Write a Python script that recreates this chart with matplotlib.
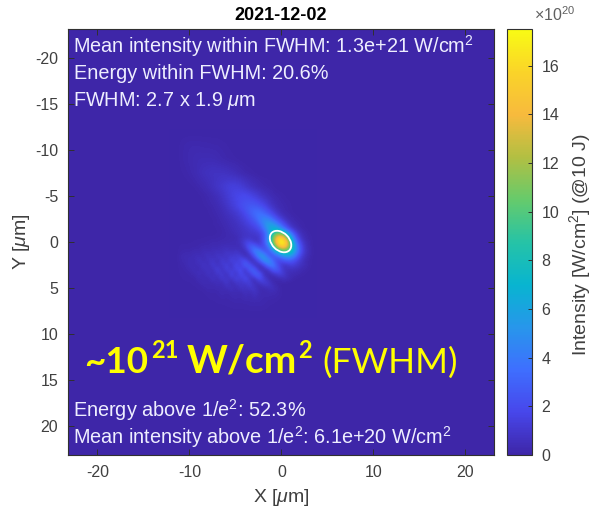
import numpy as np
import matplotlib
matplotlib.use("Agg")
import matplotlib.pyplot as plt
from matplotlib.colors import LinearSegmentedColormap
from matplotlib.patches import Ellipse

plt.rcParams.update({
    "font.family": "Liberation Sans",
    "mathtext.fontset": "custom",
    "mathtext.rm": "Liberation Sans",
    "mathtext.it": "Liberation Sans:italic",
    "mathtext.default": "regular",
    "axes.unicode_minus": False,
})

TITLE = "2021-12-02"
X_TICKS = [-20, -10, 0, 10, 20]
Y_TICKS = [-20, -15, -10, -5, 0, 5, 10, 15, 20]
CBAR_TICKS = [0, 2, 4, 6, 8, 10, 12, 14, 16]
CBAR_MAX = 17.5
FWHM_WIDTH = 2.7
FWHM_HEIGHT = 1.9
PEAK_X = -0.1
PEAK_Y = -0.1

# Intensity in 1e20 W/cm^2; columns at x_um, rows at y_um
x_um = [-11.0, -10.5, -10.0, -9.5, -9.0, -8.5, -8.0, -7.5, -7.0,
        -6.5, -6.0, -5.5, -5.0, -4.5, -4.0, -3.5, -3.0, -2.5, -2.0,
        -1.5, -1.0, -0.5, 0.0, 0.5, 1.0, 1.5, 2.0, 2.5, 3.0]
y_um = [-12, -10.5, -9, -7.5, -6, -5, -4, -3.5, -3, -2.5, -2, -1.5, -1, -0.5, 0,
        0.5, 1, 1.5, 2, 2.5, 3, 3.5, 4, 4.5, 5, 5.5, 6.5, 8]
intensity = [
 [0,0,0,0,0,0,0,0,0,  0,0,0,0,0,0,0,0,0,0,  0,0,0,0,0,0,0,0,0,0],
 [.1,.15,.2,.2,.2,.17,.17,.14,.14,  .1,.07,.04,0,0,0,0,0,0,0,  0,0,0,0,0,0,0,0,0,0],
 [.1,.17,.25,.3,.35,.35,.35,.35,.28,  .2,.14,.1,.07,.03,0,0,0,0,0,  0,0,0,0,0,0,0,0,0,0],
 [.05,.1,.17,.28,.42,.55,.63,.7,.7,  .7,.63,.55,.42,.28,.17,.1,.07,0,0,  0,0,0,0,0,0,0,0,0,0],
 [0,0,.03,.07,.17,.28,.42,.63,.84,  1.05,1.26,1.4,1.4,1.26,1,.7,.5,.35,.2,  .14,.07,0,0,0,0,0,0,0,0],
 [0,0,0,0,.04,.1,.2,.35,.5,  .77,1.1,1.4,1.7,1.8,1.9,1.7,1.4,1.05,.7,  .5,.28,.17,.1,.04,0,0,0,0,0],
 [0,0,0,0,0,.07,.14,.2,.35,  .56,.84,1.2,1.55,2,2.3,2.45,2.45,2.1,1.7,  1.1,.63,.35,.2,.14,.07,0,0,0,0],
 [0,0,0,0,0,0,.07,.14,.28,  .42,.63,1,1.26,1.7,2.2,2.8,3.1,3.1,2.5,  1.8,1.1,.56,.28,.14,.07,0,0,0,0],
 [0,0,0,0,0,0,.07,.14,.2,  .35,.56,.7,1,1.3,1.8,2.5,3.3,3.7,3.4,  2.7,1.8,1,.5,.25,.12,.06,0,0,0],
 [0,0,0,0,0,0,0,.07,.14,  .28,.42,.56,.77,1.1,1.5,2,2.7,3.8,4.6,  4.4,3.2,2,1.1,.5,.25,.12,.06,0,0],
 [0,0,0,0,0,0,0,.07,.14,  .2,.35,.5,.63,.9,1.2,1.6,2.1,3,4.6,  5.6,5.2,3.8,2.3,1.15,.5,.25,.12,.06,0],
 [0,0,0,0,0,0,0,.04,.08,  .14,.28,.42,.56,.7,.95,1.2,1.5,2.1,3.7,  6,6.9,6,4.1,2.2,1,.45,.15,.05,0],
 [0,0,0,0,0,0,0,0,.07,  .14,.2,.35,.5,.63,.8,1,1.1,1.3,2.4,  4.8,8,10.2,9.2,6.2,3.2,1.3,.5,.2,.05],
 [0,0,.03,.05,.05,.07,.1,.1,.12,  .15,.2,.25,.3,.6,.8,.8,.8,1,2.2,  4.9,11,14.8,16,11,5.9,2.4,.8,.3,.1],
 [.05,.05,.05,.08,.1,.1,.15,.2,.2,  .25,.3,.35,.4,.6,1.5,1.7,.9,.9,2.1,  5.5,10.5,16.8,17.5,15.5,8.1,3.8,1.5,.5,.15],
 [.1,.1,.1,.1,.15,.25,.2,.35,.25,  .5,.4,.45,.35,.45,1.2,2.9,3.2,1.6,1.8,  3.6,7.8,13,16.3,14,8.9,4.9,2.1,.7,.2],
 [.15,.15,.15,.3,.2,.5,.35,.5,.55,  .5,.85,.55,.85,.45,.4,1.9,4.3,4.6,2.4,  2.2,4.3,7.5,9.4,9.6,7.9,4.9,2.2,.8,.25],
 [.2,.35,.3,.45,.45,.4,.8,.4,.95,  .6,.95,.95,1.2,1.2,.35,.6,2.4,5.3,5.6,  2.5,2.2,3.3,4.8,5.7,5.3,3.4,1.5,.6,.2],
 [.2,.25,.45,.3,.75,.4,.65,.95,.4,  1.35,.6,1.7,1,1.9,2.1,.5,.65,2.3,5.3,  5.4,3,1.6,2.1,2.7,2.6,1.7,.9,.35,.1],
 [.15,.2,.45,.4,.35,.9,.4,1.2,.65,  1,1.5,.6,2.1,1,3.1,2.4,.7,.4,1.5,  4,4.3,2.1,.9,.9,1.4,1.1,.7,.35,.1],
 [.1,.15,.25,.5,.3,.65,.65,.55,1.5,  .55,1.5,1.1,1.5,2.1,.6,3,2.9,.6,.4,  .8,2.7,2.7,1.1,.6,.6,.5,.3,.15,.05],
 [.1,.1,.15,.3,.55,.25,.8,.45,.85,  1.2,.4,1.9,.65,2.1,1.2,.8,3,2.9,.6,  .3,.55,1.3,1.4,.5,.35,.25,.15,.05,0],
 [.05,.1,.1,.1,.35,.4,.25,.85,.3,  1.1,.85,.75,1.6,1,2.1,.95,.4,2.2,1.5,  .4,.15,.15,.5,.5,.2,.05,0,0,0],
 [0,.05,.05,.1,.12,.35,.25,.25,.55,  .25,1.05,.2,.8,.9,.9,1.5,.4,.5,1.2,  1.1,.3,.1,0,0,0,0,0,0,0],
 [0,0,.03,.05,.08,.12,.3,.2,.25,  .35,.4,.75,.25,.9,.6,.9,.95,.25,.25,  .5,.65,.2,.05,0,0,0,0,0,0],
 [0,0,0,.03,.05,.05,.1,.15,.12,  .3,.15,.3,.35,.2,.6,.3,.75,.35,.2,  .3,.25,.2,.05,0,0,0,0,0,0],
 [0,0,0,0,.02,.03,.05,.05,.08,  .08,.1,.12,.15,.15,.15,.2,.2,.2,.18,  .1,.08,.05,.03,0,0,0,0,0,0],
 [0,0,0,0,0,0,0,0,0,  0,0,0,0,0,0,0,0,0,0,  0,0,0,0,0,0,0,0,0,0],
]

parula = LinearSegmentedColormap.from_list("parula_like", [
    (0.00, (0.243, 0.150, 0.660)),
    (0.10, (0.280, 0.278, 0.922)),
    (0.20, (0.244, 0.436, 0.999)),
    (0.30, (0.154, 0.590, 0.922)),
    (0.40, (0.030, 0.708, 0.816)),
    (0.50, (0.150, 0.765, 0.650)),
    (0.60, (0.400, 0.795, 0.420)),
    (0.70, (0.700, 0.750, 0.260)),
    (0.80, (0.970, 0.730, 0.240)),
    (0.90, (0.980, 0.830, 0.160)),
    (1.00, (0.977, 0.984, 0.080)),
])

W, H = 593, 514
fig = plt.figure(figsize=(W / 100, H / 100), dpi=100)


def box(l, t, r, b):
    return [l / W, 1 - b / H, (r - l) / W, (b - t) / H]


def ptext(x, y, s, **kw):
    return fig.text(x / W, 1 - y / H, s, **kw)


ax = fig.add_axes(box(68, 29, 494, 455))
cax = fig.add_axes(box(507, 29, 532, 455))

# Resample the rows on the even column spacing; pad empty columns each side
arr = np.array(intensity, dtype=float)
xs = np.array(x_um)
ys = np.array(y_um, dtype=float)
even_y = np.arange(ys[0], ys[-1] + 0.01, 0.5)
even = np.array([np.interp(even_y, ys, arr[:, j]) for j in range(arr.shape[1])]).T
even = np.pad(even, ((0, 0), (2, 1)))
dx = 0.5
ax.set_facecolor(parula(0.0))
im = ax.imshow(even, cmap=parula, vmin=0, vmax=CBAR_MAX, interpolation="bicubic",
               extent=[xs[0] - 2.5 * dx, xs[-1] + 1.5 * dx, even_y[-1] + dx / 2, even_y[0] - dx / 2],
               aspect="auto", zorder=1)
ax.set_xlim(-23.2, 23.1)
ax.set_ylim(23.1, -23.2)
ax.add_patch(Ellipse((PEAK_X, PEAK_Y), FWHM_WIDTH, FWHM_HEIGHT, angle=45,
                     fill=False, ec="white", lw=1.3, zorder=3))

dark = "#404040"
ax.set_xticks(X_TICKS)
ax.set_yticks(Y_TICKS)
ax.tick_params(direction="in", length=4, width=0.7, top=True, right=True,
               labelsize=11.5, labelcolor=dark, color="#303030", pad=7)
for s in ax.spines.values():
    s.set_linewidth(0.8)
    s.set_color("#303030")

cb = fig.colorbar(im, cax=cax)
cb.set_ticks(CBAR_TICKS)
cax.tick_params(direction="in", length=3, width=0.7, labelsize=11.5, labelcolor=dark,
                color="#303030", pad=7)
cb.outline.set_linewidth(0.8)
cb.outline.set_edgecolor("#303030")

ptext(281, 16, TITLE, fontsize=13, fontweight="bold", ha="center", va="center", color="black")
ptext(281, 497, r"X [$\mathit{\mu}$m]", fontsize=14, ha="center", va="center", color=dark)
ptext(21, 242, r"Y [$\mathit{\mu}$m]", fontsize=14, rotation=90, ha="center", va="center", color=dark)
ptext(580, 245, r"Intensity [W/cm$^2$] (@10 J)", fontsize=14, rotation=90,
      ha="center", va="center", color=dark)
ptext(534, 21, r"$\times$10$^{20}$", fontsize=11.5, ha="left", va="baseline", color="#606060")

white = "#eeeeff"
info = dict(fontsize=14.3, ha="left", va="baseline", color=white, zorder=5)
ptext(73, 53, r"Mean intensity within FWHM: 1.3e+21 W/cm$^2$", **info)
ptext(74, 79, "Energy within FWHM: 20.6%", **info)
ptext(73, 106, r"FWHM: 2.7 x 1.9 $\mathit{\mu}$m", **info)
ptext(73, 417, r"Energy above 1/e$^2$: 52.3%", **info)
ptext(73, 444, r"Mean intensity above 1/e$^2$: 6.1e+20 W/cm$^2$", **info)

yellow = "#ffff00"
big = dict(ha="left", va="baseline", color=yellow, family="Lato")
ptext(84, 373, "~10", fontsize=26.5, fontweight="bold", **big)
ptext(151, 358, "21", fontsize=17, fontweight="bold", **big)
ptext(187, 373, "W/cm", fontsize=28, fontweight="bold", **big)
ptext(298, 358, "2", fontsize=17, fontweight="bold", **big)
ptext(322, 373, "(FWHM)", fontsize=25.5, **big)

fig.savefig("out.png", dpi=100)
